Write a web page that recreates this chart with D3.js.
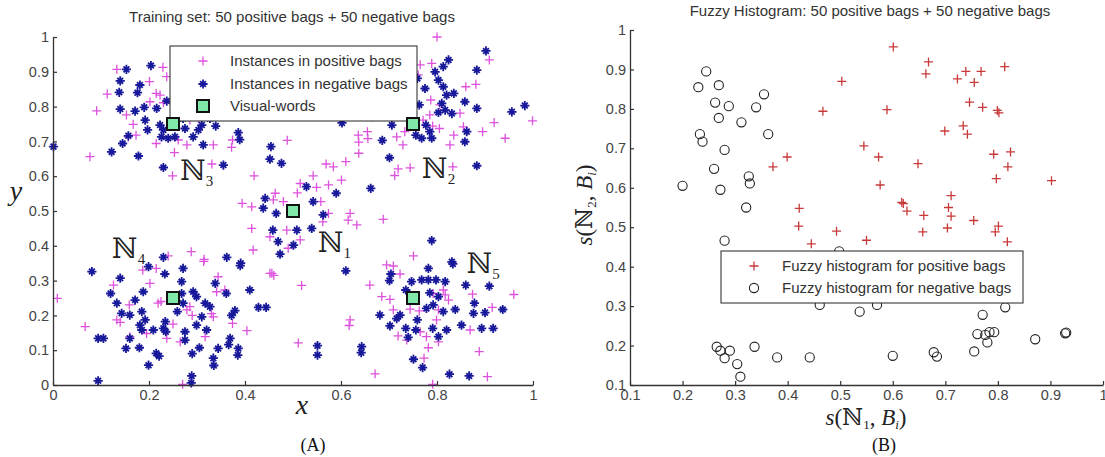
<!DOCTYPE html>
<html>
<head>
<meta charset="utf-8">
<script src="https://cdn.jsdelivr.net/npm/d3@7"></script>
<style>
    body { margin: 0; background: #fff; }
    svg text { font-family: "Liberation Sans", Arial, sans-serif; }
    svg .serif { font-family: "Liberation Serif", "Times New Roman", "DejaVu Serif", serif; }
</style>
</head>
<body>
<svg id="chart" width="1105" height="457"></svg>
<script>
// Panel A: instances, [x, y]
const posInstances = [
    [0.133,0.907],[0.229,0.913],[0.237,0.886],[0.113,0.836],[0.091,0.788],[0.201,0.872],[0.215,0.838],[0.223,0.833],
    [0.202,0.814],[0.230,0.811],[0.153,0.776],[0.167,0.749],[0.173,0.718],[0.157,0.713],[0.215,0.694],[0.077,0.656],
    [0.253,0.668],[0.279,0.690],[0.261,0.704],[0.285,0.761],[0.303,0.766],[0.334,0.690],[0.374,0.704],[0.331,0.635],
    [0.249,0.601],[0.369,0.776],
    [0.488,0.703],[0.372,0.683],[0.637,0.698],[0.656,0.708],[0.712,0.602],[0.394,0.522],[0.800,1.000],
    [0.569,0.635],[0.542,0.601],[0.515,0.579],[0.549,0.568],[0.574,0.575],[0.509,0.552],[0.463,0.551],[0.459,0.532],
    [0.480,0.527],[0.419,0.601],[0.414,0.512],[0.558,0.527],[0.574,0.493],[0.562,0.469],[0.619,0.493],[0.615,0.474],
    [0.633,0.460],[0.688,0.476],[0.487,0.445],[0.515,0.417],[0.490,0.393],[0.452,0.426],[0.417,0.388],[0.414,0.450],
    [0.456,0.321],
    [0.909,0.934],[0.789,0.924],[0.765,0.920],[0.761,0.891],[0.787,0.819],[0.860,0.857],[0.881,0.864],[0.806,0.805],
    [0.848,0.781],[0.785,0.776],[0.771,0.761],[0.791,0.744],[0.805,0.737],[0.919,0.754],[0.895,0.728],[0.942,0.709],
    [0.999,0.759],[0.835,0.718],[0.827,0.690],[0.855,0.742],[0.729,0.690],[0.716,0.713],[0.733,0.728],[0.655,0.728],
    [0.636,0.718],[0.637,0.666],[0.610,0.642],[0.584,0.627],[0.601,0.589],[0.719,0.621],[0.744,0.624],[0.833,0.627],
    [0.460,0.315],[0.518,0.286],[0.288,0.383],[0.314,0.355],[0.511,0.121],[0.617,0.171],[0.960,0.260],
    [0.751,0.371],[0.695,0.345],[0.709,0.342],[0.723,0.319],[0.660,0.287],[0.685,0.254],[0.702,0.246],[0.619,0.187],
    [0.709,0.216],[0.744,0.218],[0.763,0.213],[0.719,0.141],[0.737,0.129],[0.765,0.153],[0.778,0.139],[0.799,0.187],
    [0.803,0.216],[0.792,0.263],[0.817,0.259],[0.824,0.244],[0.813,0.273],[0.803,0.124],[0.782,0.107],[0.773,0.077],
    [0.671,0.032],[0.791,0.002],[0.869,0.158],[0.874,0.261],[0.888,0.096],[0.905,0.024],[0.915,0.223],
    [0.009,0.249],[0.067,0.168],[0.126,0.287],[0.187,0.330],[0.202,0.292],[0.215,0.335],[0.240,0.371],[0.315,0.361],
    [0.219,0.235],[0.159,0.230],[0.133,0.187],[0.160,0.139],[0.195,0.148],[0.237,0.134],[0.265,0.124],[0.279,0.216],
    [0.344,0.311],[0.341,0.268],[0.358,0.273],[0.334,0.196],[0.317,0.139],[0.374,0.177],[0.404,0.156],[0.270,0.002],
    [0.452,0.321],[0.225,0.240],[0.285,0.225],[0.290,0.200],[0.250,0.175],[0.140,0.180],[0.330,0.205]
]

const negInstances = [
    [0.153,0.907],[0.204,0.918],[0.140,0.874],[0.181,0.862],[0.138,0.841],[0.176,0.840],[0.140,0.793],[0.171,0.787],
    [0.190,0.798],[0.216,0.795],[0.237,0.816],[0.192,0.761],[0.197,0.733],[0.223,0.747],[0.230,0.733],[0.226,0.713],
    [0.240,0.709],[0.254,0.713],[0.157,0.716],[0.145,0.694],[0.122,0.670],[0.178,0.658],[0.001,0.685],[0.271,0.766],
    [0.303,0.733],[0.275,0.737],[0.292,0.713],[0.310,0.747],[0.313,0.690],[0.339,0.744],[0.327,0.766],[0.386,0.725],
    [0.230,0.625],[0.355,0.632],
    [0.389,0.705],[0.454,0.685],[0.602,0.753],[0.686,0.703],
    [0.452,0.649],[0.476,0.637],[0.528,0.570],[0.590,0.551],[0.542,0.527],[0.442,0.536],[0.438,0.508],[0.465,0.493],
    [0.563,0.489],[0.539,0.450],[0.458,0.445],[0.508,0.445],[0.469,0.412],[0.501,0.402],[0.473,0.376],[0.662,0.565],
    [0.902,0.960],[0.824,0.934],[0.813,0.915],[0.796,0.900],[0.883,0.905],[0.803,0.876],[0.775,0.852],[0.813,0.857],
    [0.835,0.838],[0.820,0.833],[0.858,0.814],[0.883,0.795],[0.810,0.809],[0.817,0.790],[0.803,0.783],[0.831,0.780],
    [0.956,0.785],[0.983,0.803],[0.763,0.805],[0.759,0.881],[0.777,0.747],[0.785,0.728],[0.756,0.718],[0.768,0.709],
    [0.789,0.709],[0.862,0.728],[0.858,0.699],[0.706,0.747],[0.701,0.653],[0.883,0.630],[0.601,0.771],[0.664,0.771],
    [0.610,0.328],[0.704,0.319],[0.701,0.300],[0.782,0.335],[0.831,0.354],[0.747,0.297],[0.768,0.302],[0.782,0.302],
    [0.798,0.302],[0.817,0.297],[0.735,0.273],[0.785,0.265],[0.803,0.254],[0.792,0.230],[0.778,0.220],[0.813,0.211],
    [0.838,0.217],[0.860,0.287],[0.909,0.284],[0.878,0.235],[0.876,0.206],[0.900,0.208],[0.937,0.217],[0.851,0.172],
    [0.893,0.163],[0.917,0.163],[0.820,0.158],[0.791,0.163],[0.803,0.139],[0.759,0.187],[0.723,0.201],[0.716,0.191],
    [0.702,0.170],[0.681,0.201],[0.735,0.163],[0.740,0.137],[0.756,0.158],[0.643,0.110],[0.751,0.074],[0.770,0.050],
    [0.826,0.031],[0.867,0.026],[0.789,0.415],[0.833,0.348],[0.551,0.113],[0.551,0.086],[0.642,0.093],
    [0.081,0.326],[0.140,0.307],[0.199,0.340],[0.230,0.367],[0.271,0.335],[0.233,0.319],[0.268,0.297],[0.362,0.367],
    [0.391,0.350],[0.338,0.292],[0.120,0.263],[0.133,0.235],[0.143,0.206],[0.160,0.201],[0.171,0.244],[0.188,0.268],
    [0.185,0.211],[0.192,0.187],[0.181,0.172],[0.185,0.158],[0.209,0.158],[0.160,0.134],[0.094,0.134],[0.105,0.134],
    [0.152,0.105],[0.180,0.107],[0.215,0.091],[0.221,0.083],[0.199,0.057],[0.094,0.012],[0.234,0.182],[0.230,0.163],
    [0.235,0.153],[0.259,0.211],[0.271,0.235],[0.268,0.263],[0.292,0.268],[0.299,0.254],[0.317,0.235],[0.327,0.225],
    [0.310,0.196],[0.299,0.172],[0.320,0.158],[0.275,0.153],[0.305,0.107],[0.275,0.129],[0.344,0.105],[0.369,0.134],
    [0.386,0.105],[0.334,0.077],[0.379,0.214],[0.410,0.273],[0.428,0.223],[0.444,0.223],[0.289,0.026],[0.361,0.263],
    [0.372,0.200],[0.366,0.116],[0.385,0.086],[0.390,0.343],[0.290,0.090],[0.335,0.056],[0.288,0.006]
]

const visualWords = [[0.25,0.75],[0.75,0.75],[0.5,0.5],[0.25,0.25],[0.75,0.25]]
// where each N_k annotation starts (left edge, baseline)
const wordLabels = [
    { sub: '1', x: 0.552, y: 0.382 },
    { sub: '2', x: 0.769, y: 0.595 },
    { sub: '3', x: 0.265, y: 0.589 },
    { sub: '4', x: 0.123, y: 0.365 },
    { sub: '5', x: 0.862, y: 0.322 }
]
const ticksAx = [0, 0.2, 0.4, 0.6, 0.8, 1]
const ticksAy = [0, 0.1, 0.2, 0.3, 0.4, 0.5, 0.6, 0.7, 0.8, 0.9, 1]

// Panel B: fuzzy histogram, [s(N1,B), s(N2,B)]
const histPos = [
    [0.601,0.957],[0.668,0.919],[0.663,0.889],[0.503,0.870],[0.723,0.876],[0.739,0.895],[0.768,0.895],[0.755,0.867],
    [0.813,0.907],[0.467,0.794],[0.589,0.798],[0.746,0.817],[0.771,0.804],[0.799,0.796],[0.802,0.790],[0.699,0.744],
    [0.734,0.757],[0.742,0.736],[0.545,0.706],[0.573,0.678],[0.399,0.678],[0.372,0.653],[0.648,0.661],[0.792,0.685],
    [0.824,0.691],[0.819,0.653],[0.797,0.623],[0.902,0.618],[0.576,0.607],[0.617,0.563],[0.620,0.560],[0.627,0.541],
    [0.711,0.580],[0.706,0.550],[0.711,0.528],[0.659,0.530],[0.754,0.517],[0.801,0.503],[0.422,0.548],[0.421,0.503],
    [0.493,0.490],[0.704,0.498],[0.657,0.488],[0.445,0.458],[0.550,0.467],[0.795,0.488],[0.818,0.463]
]
const histNeg = [
    [0.245,0.895],[0.230,0.855],[0.269,0.860],[0.262,0.816],[0.288,0.807],[0.269,0.777],[0.312,0.766],[0.340,0.804],
    [0.355,0.837],[0.233,0.736],[0.238,0.717],[0.363,0.736],[0.280,0.696],[0.260,0.648],[0.200,0.605],[0.272,0.595],
    [0.326,0.629],[0.328,0.611],[0.321,0.550],[0.280,0.466],[0.498,0.439],[0.461,0.303],[0.537,0.286],[0.570,0.303],
    [0.814,0.297],[0.771,0.278],[0.761,0.229],[0.776,0.227],[0.784,0.234],[0.793,0.234],[0.780,0.208],[0.928,0.231],
    [0.930,0.233],[0.871,0.216],[0.755,0.185],[0.678,0.183],[0.684,0.172],[0.600,0.174],[0.442,0.170],[0.380,0.170],
    [0.337,0.197],[0.265,0.197],[0.272,0.187],[0.290,0.187],[0.280,0.168],[0.304,0.153],[0.310,0.121]
]
const ticksB = [0.1, 0.2, 0.3, 0.4, 0.5, 0.6, 0.7, 0.8, 0.9, 1]

const svg = d3.select('#chart')
const fmt = d3.format('~g')

const magenta = '#dd52dd'
const navy = '#18189a'
const red = '#c83a3a'
const wordFill = '#80e8a8'

// marker shapes (MATLAB '+' and '*')
const plusPath = 'M-4.5,0H4.5M0,-4.5V4.5'
const starPath = 'M-4.6,0H4.6M0,-4.6V4.6M-2.9,-2.9L2.9,2.9M-2.9,2.9L2.9,-2.9'

// Shared axis drawing, MATLAB look: inward ticks, no box
function drawAxes(g, x, y, xt, yt, x0, y0) {
    const ax = g.append('g')
        .attr('transform', `translate(0,${y(y0)})`)
        .call(d3.axisBottom(x).tickValues(xt).tickSizeInner(-4).tickSizeOuter(0).tickPadding(5).tickFormat(fmt))
    const ay = g.append('g')
        .attr('transform', `translate(${x(x0)},0)`)
        .call(d3.axisLeft(y).tickValues(yt).tickSizeInner(-4).tickSizeOuter(0).tickPadding(4).tickFormat(fmt))
    for (const a of [ax, ay]) {
        a.select('.domain').attr('stroke', '#333').attr('stroke-width', 1.3)
        a.selectAll('.tick line').attr('stroke', '#333').attr('stroke-width', 1.2)
        a.selectAll('.tick text').attr('fill', '#444').style('font-size', '14.5px')
    }
}

// ---------------- Panel A ----------------
const xA = d3.scaleLinear().domain([0, 1]).range([53, 533])
const yA = d3.scaleLinear().domain([0, 1]).range([385, 37])
const gA = svg.append('g')

gA.append('g').selectAll('path').data(posInstances).join('path')
    .attr('d', plusPath)
    .attr('transform', d => `translate(${xA(d[0])},${yA(d[1])})`)
    .attr('stroke', magenta).attr('stroke-width', 1.3).attr('fill', 'none')

gA.append('g').selectAll('path').data(negInstances).join('path')
    .attr('d', starPath)
    .attr('transform', d => `translate(${xA(d[0])},${yA(d[1])})`)
    .attr('stroke', navy).attr('stroke-width', 1.8).attr('fill', 'none')

drawAxes(gA, xA, yA, ticksAx, ticksAy, 0, 0)

// legend A (white box drawn over the points)
const legA = gA.append('g').attr('transform', 'translate(170,46)')
legA.append('rect').attr('width', 247).attr('height', 75).attr('fill', '#fff').attr('stroke', '#222').attr('stroke-width', 1)
legA.append('path').attr('d', plusPath).attr('transform', 'translate(33,15)')
    .attr('stroke', magenta).attr('stroke-width', 1.3)
legA.append('path').attr('d', starPath).attr('transform', 'translate(33,38)')
    .attr('stroke', navy).attr('stroke-width', 1.8)
legA.append('rect').attr('x', 27).attr('y', 54).attr('width', 12).attr('height', 12)
    .attr('fill', wordFill).attr('stroke', '#111').attr('stroke-width', 2)
const legAText = ['Instances in positive bags', 'Instances in negative bags', 'Visual-words']
legA.selectAll('text.lt').data(legAText).join('text')
    .attr('class', 'lt')
    .attr('x', 60).attr('y', (d, i) => 20 + i * 22.5)
    .attr('fill', '#333').style('font-size', '15px')
    .text(d => d)

// visual words
gA.append('g').selectAll('rect').data(visualWords).join('rect')
    .attr('x', d => xA(d[0]) - 6).attr('y', d => yA(d[1]) - 6)
    .attr('width', 12).attr('height', 12)
    .attr('fill', wordFill).attr('stroke', '#111').attr('stroke-width', 2)

// N_k labels
const wl = gA.append('g').selectAll('text').data(wordLabels).join('text')
    .attr('class', 'serif')
    .attr('x', d => xA(d.x)).attr('y', d => yA(d.y))
    .attr('fill', '#222')
    .style('font-size', '28px')
wl.append('tspan').text('\u2115')
wl.append('tspan').attr('dy', 6).style('font-size', '15px').text(d => d.sub)

gA.append('text').attr('x', 292).attr('y', 22).attr('text-anchor', 'middle')
    .attr('fill', '#333').style('font-size', '15px')
    .text('Training set: 50 positive bags + 50 negative bags')
gA.append('text').attr('class', 'serif').attr('x', 302).attr('y', 414).attr('text-anchor', 'middle')
    .style('font-size', '28px').style('font-style', 'italic').attr('fill', '#222').text('x')
gA.append('text').attr('class', 'serif').attr('x', 16).attr('y', 200).attr('text-anchor', 'middle')
    .style('font-size', '28px').style('font-style', 'italic').attr('fill', '#222').text('y')
gA.append('text').attr('class', 'serif').attr('x', 313).attr('y', 451).attr('text-anchor', 'middle')
    .style('font-size', '18px').attr('fill', '#111').text('(A)')

// ---------------- Panel B ----------------
const xB = d3.scaleLinear().domain([0.1, 1]).range([630, 1103])
const yB = d3.scaleLinear().domain([0.1, 1]).range([385, 30])
const gB = svg.append('g')

gB.append('g').selectAll('path').data(histPos).join('path')
    .attr('d', plusPath)
    .attr('transform', d => `translate(${xB(d[0])},${yB(d[1])})`)
    .attr('stroke', red).attr('stroke-width', 1.3).attr('fill', 'none')

gB.append('g').selectAll('circle').data(histNeg).join('circle')
    .attr('cx', d => xB(d[0])).attr('cy', d => yB(d[1])).attr('r', 4.6)
    .attr('stroke', '#222').attr('stroke-width', 1.1).attr('fill', 'none')

drawAxes(gB, xB, yB, ticksB, ticksB, 0.1, 0.1)

const legB = gB.append('g').attr('transform', 'translate(721,251)')
legB.append('rect').attr('width', 302).attr('height', 52).attr('fill', '#fff').attr('stroke', '#222').attr('stroke-width', 1)
legB.append('path').attr('d', plusPath).attr('transform', 'translate(33,15)')
    .attr('stroke', red).attr('stroke-width', 1.3)
legB.append('circle').attr('cx', 33).attr('cy', 37).attr('r', 4.6)
    .attr('stroke', '#222').attr('stroke-width', 1.1).attr('fill', 'none')
const legBText = ['Fuzzy histogram for positive bags', 'Fuzzy histogram for negative bags']
legB.selectAll('text.lt').data(legBText).join('text')
    .attr('class', 'lt')
    .attr('x', 61).attr('y', (d, i) => 20 + i * 22)
    .attr('fill', '#333').style('font-size', '15px')
    .text(d => d)

gB.append('text').attr('x', 870).attr('y', 16).attr('text-anchor', 'middle')
    .attr('fill', '#333').style('font-size', '15px')
    .text('Fuzzy Histogram: 50 positive bags + 50 negative bags')

function sLabel(sel, k) {
    sel.append('tspan').style('font-style', 'italic').text('s')
    sel.append('tspan').text('(\u2115')
    sel.append('tspan').attr('dy', 4).style('font-size', '13px').text(k)
    sel.append('tspan').attr('dy', -4).text(', ')
    sel.append('tspan').style('font-style', 'italic').text('B')
    sel.append('tspan').attr('dy', 4).style('font-size', '13px').style('font-style', 'italic').text('i')
    sel.append('tspan').attr('dy', -4).text(')')
}
const xl = gB.append('text').attr('class', 'serif').attr('x', 866).attr('y', 425)
    .attr('text-anchor', 'middle').style('font-size', '23px').attr('fill', '#222')
sLabel(xl, '1')
const yl = gB.append('text').attr('class', 'serif')
    .attr('transform', 'translate(592,205) rotate(-90)')
    .attr('text-anchor', 'middle').style('font-size', '23px').attr('fill', '#222')
sLabel(yl, '2')
gB.append('text').attr('class', 'serif').attr('x', 884).attr('y', 451).attr('text-anchor', 'middle')
    .style('font-size', '18px').attr('fill', '#111').text('(B)')
</script>
</body>
</html>
